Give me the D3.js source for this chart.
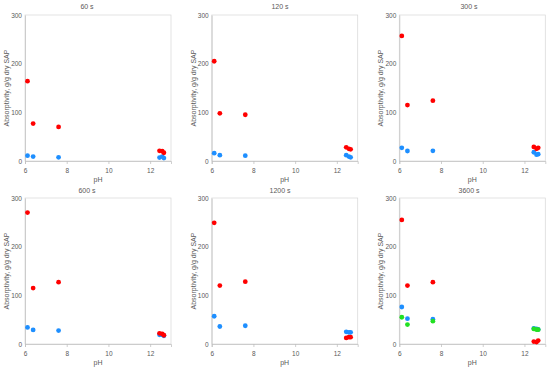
<!DOCTYPE html>
<meta charset="utf-8">
<head>
    <style>
        body { margin: 0; background: #fff; }
        text { font-family: "Liberation Sans", sans-serif; fill: #595959; }
        .title, .xlab, .ylab { font-size: 7px; }
    </style>
    <script src="https://d3js.org/d3.v7.min.js"></script>
</head>
<body>
<script>
    const titles = ["60 s", "120 s", "300 s", "600 s", "1200 s", "3600 s"]
    const pH = [6.12, 6.39, 7.61, 12.45, 12.58, 12.66]
    const xTicks = [6, 8, 10, 12]
    const yTicks = [0, 100, 200, 300]

    // one array per panel and series
    const red60 = [164, 77, 70, 21, 20, 17]
    const blue60 = [11, 9, 7.5, 7, 9, 6]
    const red120 = [205, 98, 95, 28, 25, 24]
    const blue120 = [16, 12, 11, 12, 9, 7.5]
    const red300 = [257, 115, 124, 29, 25, 27]
    const blue300 = [27, 20.5, 21, 18, 13, 14]
    const red600 = [270, 115, 127, 22, 20.5, 18]
    const blue600 = [34, 29, 27.5, 19, 19, 17]
    const red1200 = [249, 120, 128, 12.5, 14, 14]
    const blue1200 = [57, 36, 37.5, 25, 24, 24]
    const red3600 = [255, 120, 127, 5, 4, 7]
    const blue3600 = [76, 52, 51, 32, 31, 30]
    const green3600 = [55, 40, 47, 31, 29.5, 29.5]

    const RED = "#ff0000", BLUE = "#1e8fff", GREEN = "#22e022"

    const panels = [
        [[blue60, BLUE], [red60, RED]],
        [[blue120, BLUE], [red120, RED]],
        [[blue300, BLUE], [red300, RED]],
        [[blue600, BLUE], [red600, RED]],
        [[blue1200, BLUE], [red1200, RED]],
        [[blue3600, BLUE], [green3600, GREEN], [red3600, RED]]
    ]

    const cols = [
        { left: 25, title: 87 },
        { left: 211.7, title: 280 },
        { left: 399.3, title: 469 }
    ]
    const rows = [{ top: 15, titleY: 9 }, { top: 198, titleY: 193 }]
    const pw = 146, ph = 146

    const svg = d3.select("body").append("svg")
        .attr("width", 550)
        .attr("height", 369)

    panels.forEach((series, i) => {
        const c = cols[i % 3], r = rows[Math.floor(i / 3)]

        const x = d3.scaleLinear().domain([6, 13]).range([0, pw])
        const y = d3.scaleLinear().domain([0, 300]).range([ph, 0])

        const g = svg.append("g")
            .attr("transform", "translate(" + c.left + "," + r.top + ")")

        g.append("rect")
            .attr("width", pw)
            .attr("height", ph)
            .attr("fill", "none")
            .attr("stroke", "#d9d9d9")
            .attr("stroke-width", 0.75)

        const xAxis = g.append("g")
            .attr("transform", "translate(0," + ph + ")")
            .call(d3.axisBottom(x).tickValues(xTicks).tickFormat(d3.format("d")).tickSize(3).tickPadding(4))
        const yAxis = g.append("g")
            .call(d3.axisLeft(y).tickValues(yTicks).tickSize(0).tickPadding(3))

        ;[xAxis, yAxis].forEach(a => {
            a.select(".domain").attr("stroke", "#bfbfbf").attr("stroke-width", 0.75)
            a.selectAll(".tick line").attr("stroke", "#bfbfbf").attr("stroke-width", 0.75)
            a.selectAll(".tick text")
                .attr("fill", "#595959")
                .style("font-family", "Liberation Sans, sans-serif")
                .style("font-size", "6.5px")
        })

        series.forEach(([vals, color]) => {
            g.selectAll(null)
                .data(vals)
                .enter()
                .append("circle")
                .attr("cx", (d, j) => x(pH[j]))
                .attr("cy", d => y(d))
                .attr("r", 2.4)
                .attr("fill", color)
        })

        svg.append("text")
            .attr("class", "title")
            .attr("x", c.title)
            .attr("y", r.titleY)
            .attr("text-anchor", "middle")
            .text(titles[i])

        g.append("text")
            .attr("class", "xlab")
            .attr("x", pw / 2)
            .attr("y", ph + 21)
            .attr("text-anchor", "middle")
            .text("pH")

        g.append("text")
            .attr("class", "ylab")
            .attr("transform", "translate(-16," + (ph / 2) + ") rotate(-90)")
            .attr("text-anchor", "middle")
            .text("Absorptivity, g/g dry SAP")
    })
</script>
</body>
